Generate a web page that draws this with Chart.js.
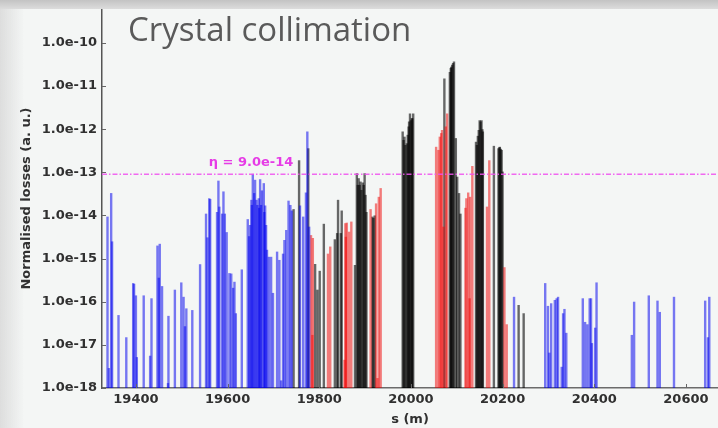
<!DOCTYPE html>
<html>
<head>
<meta charset="utf-8">
<script src="https://cdn.jsdelivr.net/npm/chart.js@4.4.1/dist/chart.umd.min.js"></script>
<style>
  html, body { margin: 0; padding: 0; }
  body { width: 718px; height: 428px; overflow: hidden; background: #f4f6f5; position: relative; }
  .borde-arriba { position: absolute; left: 0; top: 0; width: 718px; height: 9px; background: linear-gradient(#c3c3c3, #dcdcdc); z-index: 2; }
  .borde-izquierda { position: absolute; left: 0; top: 0; width: 24px; height: 428px; background: linear-gradient(to right, rgba(215,215,215,0.8), rgba(244,246,245,0)); z-index: 1; }
  #grafico { position: absolute; left: 0; top: 0; }
</style>
</head>
<body>
<div class="borde-arriba"></div>
<div class="borde-izquierda"></div>
<canvas id="grafico" width="718" height="428"></canvas>
<script>
//DATOS
const titulo = "Crystal collimation";
const eta = 9.0e-14;
const sMin = 19326;
const sMax = 20670;
const marcasX = [19400, 19600, 19800, 20000, 20200, 20400, 20600];
const marcasY = [1e-18, 1e-17, 1e-16, 1e-15, 1e-14, 1e-13, 1e-12, 1e-11, 1e-10];

//perdidas en el frio (azul)
const posicionesAzul = [
  19338, 19341, 19346, 19348, 19362, 19379, 19394, 19396, 19400, 19402,
  19417, 19431, 19434, 19447, 19450, 19452, 19457, 19470, 19471, 19485,
  19499, 19504, 19507, 19510, 19523, 19540, 19553, 19556, 19560, 19562,
  19577, 19580, 19582, 19588, 19591, 19594, 19598, 19604, 19608, 19612,
  19615, 19618, 19631, 19644, 19647, 19649, 19652, 19653, 19655, 19658,
  19660, 19663, 19665, 19668, 19669, 19671, 19673, 19675, 19679, 19680,
  19682, 19684, 19686, 19690, 19695, 19699, 19708, 19713, 19717, 19721,
  19724, 19728, 19733, 19737, 19740, 19758, 19765, 19771, 19774, 19778,
  20225, 20293, 20299, 20302, 20306, 20314, 20318, 20321, 20329, 20332,
  20335, 20339, 20375, 20380, 20385, 20390, 20393, 20395, 20402, 20405,
  20482, 20487, 20519, 20538, 20543, 20574, 20642, 20648, 20651
];
const perdidasAzul = [
  9.4e-15, 2.9e-18, 3.3e-14, 2.5e-15, 4.9e-17, 1.5e-17, 2.7e-16, 2.6e-16, 1.4e-16, 5.2e-18,
  1.4e-16, 5.6e-18, 1.2e-16, 2.0e-15, 3.6e-16, 2.2e-15, 2.3e-16, 1.3e-18, 4.7e-17, 1.9e-16,
  2.8e-16, 1.3e-16, 2.7e-17, 7.0e-17, 6.4e-17, 7.4e-16, 1.1e-14, 3.1e-15, 2.5e-14, 2.4e-14,
  1.2e-14, 6.4e-14, 1.6e-14, 1.1e-14, 3.6e-14, 1.1e-14, 4.1e-15, 4.6e-16, 4.5e-16, 2.1e-16,
  2.9e-16, 5.4e-17, 5.6e-16, 8.2e-15, 3.3e-15, 6.0e-15, 2.3e-14, 1.75e-14, 9.2e-14, 3.3e-14,
  6.7e-14, 2.3e-14, 1.75e-14, 2.5e-14, 1.5e-14, 6.9e-14, 1.75e-14, 3.8e-14, 5.6e-14, 1.2e-14,
  1.7e-14, 6.0e-15, 1.6e-15, 1.1e-15, 1.1e-15, 1.6e-16, 1.45e-15, 9.3e-16, 1.5e-18, 1.3e-15,
  2.7e-15, 4.6e-15, 2.2e-14, 1.75e-14, 1.3e-14, 1.7e-14, 9.4e-15, 3.4e-14, 8.8e-13, 5.5e-15,
  1.3e-16, 2.7e-16, 8.0e-17, 6.6e-18, 9.2e-17, 1.1e-16, 1.2e-16, 1.3e-16, 3.1e-18, 5.4e-17,
  6.8e-17, 1.9e-17, 1.2e-16, 3.4e-17, 3.0e-17, 1.2e-16, 1.2e-16, 1.1e-17, 2.5e-17, 2.8e-16,
  1.7e-17, 1.0e-16, 1.4e-16, 1.06e-16, 5.8e-17, 1.3e-16, 1.06e-16, 1.5e-17, 1.3e-16
];

//perdidas en el caliente (rojo)
const posicionesRojo = [
  19782, 19785, 19786, 19819, 19824, 19855, 19857, 19858, 19860, 19865,
  19870, 19912, 19924, 19927, 19930, 19934, 20055, 20060, 20063, 20066,
  20068, 20071, 20076, 20079, 20119, 20121, 20125, 20128, 20129, 20134,
  20166, 20171, 20204, 20209
];
const perdidasRojo = [
  3.5e-15, 1.7e-17, 3.0e-15, 1.3e-15, 1.9e-15, 4.5e-18, 6.6e-15, 3.2e-15, 6.8e-15, 4.2e-15,
  7.2e-15, 1.4e-14, 1.9e-14, 1.7e-18, 2.7e-14, 4.3e-14, 3.9e-13, 3.3e-13, 6.7e-13, 8.1e-13,
  9.6e-13, 5.5e-15, 1.15e-12, 2.3e-12, 1.5e-14, 2.5e-14, 3.4e-14, 1.2e-16, 2.7e-14, 1.4e-13,
  1.6e-14, 1.9e-13, 6.3e-16, 3.0e-17
];

//perdidas en colimadores (negro)
const posicionesNegro = [
  19744, 19756, 19776, 19791, 19796, 19801, 19810, 19834, 19839, 19841,
  19847, 19849, 19878, 19882, 19884, 19886, 19888, 19890, 19892, 19895,
  19897, 19899, 19901, 19903, 19916, 19918, 19921, 19982, 19984, 19986,
  19988, 19991, 19993, 19995, 19996, 19998, 20000, 20002, 20003, 20005,
  20073, 20085, 20087, 20088, 20090, 20092, 20094, 20098, 20101, 20105,
  20108, 20142, 20144, 20146, 20148, 20150, 20152, 20154, 20156, 20157,
  20181, 20191, 20193, 20194, 20196, 20198, 20200, 20235, 20246
];
const perdidasNegro = [
  1.4e-14, 1.9e-13, 3.6e-13, 7.5e-16, 1.9e-16, 5.2e-16, 6.4e-15, 2.8e-15, 3.9e-15, 2.3e-14,
  3.9e-15, 1.3e-14, 7.1e-16, 9.5e-14, 5.1e-14, 7.3e-14, 5.1e-14, 6.1e-14, 3.9e-14, 5.8e-14,
  5.1e-14, 9.5e-14, 3.0e-14, 1.2e-14, 9.4e-15, 8.8e-15, 1.0e-14, 8.8e-13, 5.6e-13, 6.7e-13,
  4.3e-13, 4.7e-13, 7.4e-13, 1.15e-12, 1.5e-12, 2.3e-12, 1.6e-12, 1.8e-12, 1.8e-12, 2.3e-12,
  1.5e-11, 2.1e-11, 2.6e-11, 2.8e-11, 3.1e-11, 3.4e-11, 3.7e-11, 6.2e-13, 7.9e-14, 3.3e-14,
  1.1e-14, 5.1e-13, 4.3e-13, 7.0e-13, 9.6e-13, 1.6e-12, 1.5e-12, 1.6e-12, 1.0e-12, 8.8e-13,
  4.1e-13, 3.6e-13, 3.8e-13, 3.9e-13, 3.5e-13, 3.3e-13, 1.04e-13, 8.4e-17, 5.4e-17
];

const fuenteEje = { family: "'DejaVu Sans', sans-serif", size: 13, weight: "bold" };
const colorTexto = "#303030";

function serieBarras(posiciones, perdidas, color) {
  return {
    type: "bar",
    data: posiciones.map((s, i) => ({ x: s, y: perdidas[i] })),
    backgroundColor: color,
    borderWidth: 0,
    grouped: false,
    categoryPercentage: 1,
    barPercentage: 50,
    maxBarThickness: 2.4,
    order: 1
  };
}

//marcas, titulo y etiqueta del umbral
const decoraciones = {
  id: "decoraciones",
  afterDraw(chart) {
    const { ctx, chartArea, scales: { x, y } } = chart;
    ctx.save();
    ctx.strokeStyle = "#666";
    ctx.lineWidth = 1;
    marcasY.forEach(valor => {
      const py = Math.round(y.getPixelForValue(valor)) + 0.5;
      ctx.beginPath();
      ctx.moveTo(chartArea.left, py);
      ctx.lineTo(chartArea.left + 4, py);
      ctx.stroke();
    });
    marcasX.forEach(valor => {
      const px = Math.round(x.getPixelForValue(valor)) + 0.5;
      ctx.beginPath();
      ctx.moveTo(px, chartArea.bottom);
      ctx.lineTo(px, chartArea.bottom - 4);
      ctx.stroke();
    });

    ctx.font = "33px 'Open Sans', sans-serif";
    ctx.fillStyle = "#5a5a5a";
    ctx.textAlign = "left";
    ctx.textBaseline = "alphabetic";
    ctx.fillText(titulo, chartArea.left + 26, 41);

    ctx.font = "bold 13px 'DejaVu Sans', sans-serif";
    ctx.fillStyle = "#e63be6";
    ctx.textAlign = "center";
    ctx.fillText("η = " + eta.toExponential(1), chartArea.left + 149, y.getPixelForValue(eta) - 8);
    ctx.restore();
  }
};

//GRAFICA DE PERDIDAS
new Chart(document.getElementById("grafico"), {
  type: "bar",
  data: {
    datasets: [
      {
        type: "line",
        data: [{ x: sMin, y: eta }, { x: sMax, y: eta }],
        borderColor: "rgba(238,80,238,0.85)",
        borderWidth: 1.5,
        borderDash: [5, 2, 1.5, 2],
        pointRadius: 0,
        order: 0
      },
      serieBarras(posicionesAzul, perdidasAzul, "rgba(0,0,238,0.52)"),
      serieBarras(posicionesRojo, perdidasRojo, "rgba(240,0,0,0.5)"),
      serieBarras(posicionesNegro, perdidasNegro, "rgba(0,0,0,0.58)")
    ]
  },
  options: {
    responsive: false,
    animation: false,
    layout: { padding: { top: 9, left: 0, right: 0, bottom: 0 } },
    plugins: { legend: { display: false }, tooltip: { enabled: false } },
    scales: {
      x: {
        type: "linear",
        offset: false,
        min: sMin,
        max: sMax,
        grid: { display: false, drawTicks: false },
        border: { display: true, color: "#6b6b6b", width: 1.5 },
        ticks: { padding: 4, maxRotation: 0, font: fuenteEje, color: colorTexto, callback: v => String(v) },
        title: { display: true, text: "s (m)", font: fuenteEje, color: colorTexto, padding: { top: 0, bottom: 1 } },
        afterBuildTicks: eje => { eje.ticks = marcasX.map(v => ({ value: v })); },
        afterFit: eje => { eje.height = 40; eje.paddingLeft = 0; eje.paddingRight = 0; }
      },
      y: {
        type: "logarithmic",
        min: 1e-18,
        max: 6.1e-10,
        grid: { display: false, drawTicks: false },
        border: { display: true, color: "#555", width: 1.5 },
        ticks: { padding: 5, font: fuenteEje, color: colorTexto, callback: v => Number(v).toExponential(1) },
        title: { display: true, text: "Normalised losses (a. u.)", font: fuenteEje, color: colorTexto, padding: { top: 19, bottom: 0 } },
        afterBuildTicks: eje => { eje.ticks = marcasY.map(v => ({ value: v })); },
        afterFit: eje => { eje.width = 102; eje.paddingTop = 0; eje.paddingBottom = 0; }
      }
    }
  },
  plugins: [decoraciones]
});
</script>
</body>
</html>
